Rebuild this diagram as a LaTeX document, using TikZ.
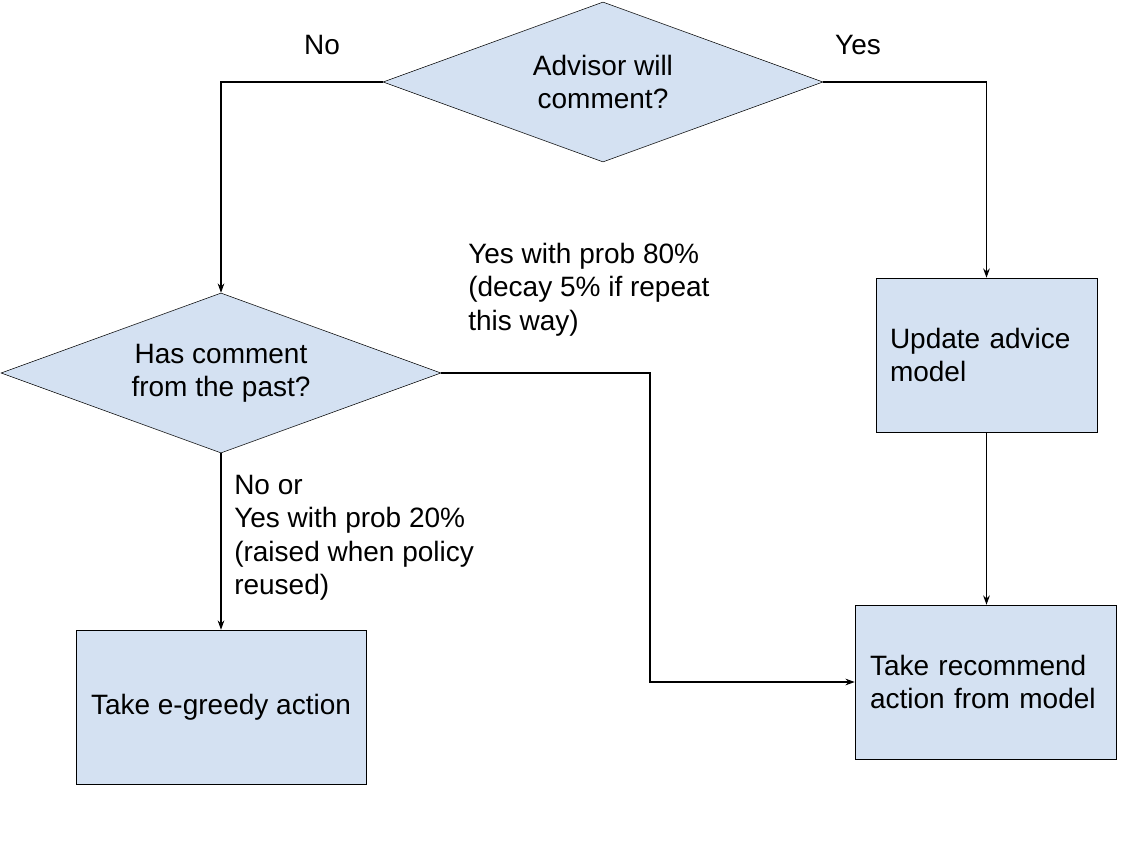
\documentclass[tikz,border=0pt]{standalone}
\usepackage{fontspec}
\setmainfont{Liberation Sans}
\usetikzlibrary{arrows.meta, positioning, shapes.geometric}
\definecolor{boxblue}{HTML}{D4E1F2}

\begin{document}
\begin{tikzpicture}[x=0.75pt, y=-0.75pt,
    decision/.style={draw, diamond, fill=boxblue, aspect=2.75, inner sep=0pt, minimum width=330pt, minimum height=120pt, align=center, font=\fontsize{21}{25}\selectfont},
    action/.style={draw, rectangle, fill=boxblue, inner sep=0pt, minimum height=115.5pt, font=\fontsize{21}{25}\selectfont},
    note/.style={inner sep=0pt, align=left, font=\fontsize{21}{25}\selectfont},
    link/.style={line width=0.8pt, -{Stealth[length=7pt, width=5pt]}}
]
\useasboundingbox (0,0) rectangle (1146,842);

% Decisions
\node[decision] (ask) at (603,82) {Advisor will\\comment?};
\node[decision] (past) at (221,373) {Has comment\\from the past?};

% Actions
\node[action, minimum width=165.75pt, text width=144.75pt, align=left] (update) at (986.5,355) {Update advice\\model};
\node[action, minimum width=195.75pt, text width=173.25pt, align=left] (recommend) at (985.5,682) {Take recommend\\action from model};
\node[action, minimum width=217.5pt, align=center] (greedy) at (221,707) {Take e-greedy action};

% Labels
\node[note] (no) at (322,45) {No};
\node[note] (yes) at (858,45) {Yes};
\node[note, anchor=north west] (yesprob) at (468,243) {Yes with prob 80\%\\(decay 5\% if repeat\\this way)};
\node[note, anchor=north west] (noprob) at (234,475) {No or\\Yes with prob 20\%\\(raised when policy\\reused)};

% Connectors
\coordinate (turn) at (650,373);
\draw[link] (ask.west) -| (past.north);
\draw[link] (ask.east) -| (update.north);
\draw[link] (update.south) -- (update.south |- recommend.north);
\draw[link] (past.east) -- (turn) |- (recommend.west);
\draw[link] (past.south) -- (greedy.north);

\end{tikzpicture}
\end{document}
